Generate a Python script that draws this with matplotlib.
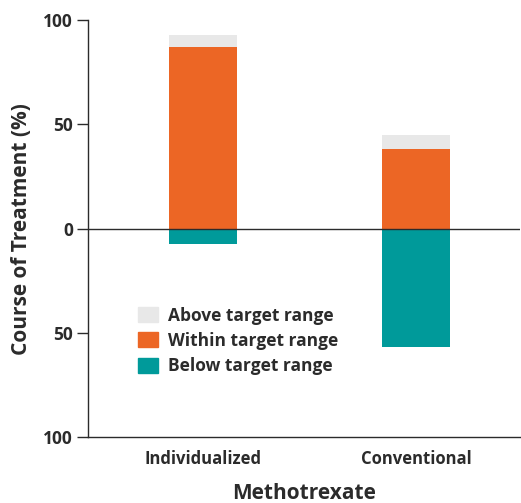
import matplotlib
matplotlib.use("Agg")
import matplotlib.pyplot as plt
from matplotlib.patches import Patch

categories = ["Individualized", "Conventional"]
within = [87, 38]
above = [6, 6.8]
below = [7.5, 57]
yticks = [100, 50, 0, -50, -100]
ytick_labels = ["100", "50", "0", "50", "100"]

c_above = "#e8e8e8"
c_within = "#ec6625"
c_below = "#009a9a"
dark = "#2b2b2b"

plt.rcParams['font.family'] = ['Open Sans', 'DejaVu Sans']

fig = plt.figure(figsize=(5.21, 5.03), dpi=100)
ax = fig.add_axes([0.169, 0.131, 0.829, 0.829])

x = list(range(len(categories)))
w = 0.32
ax.bar(x, within, width=w, color=c_within, zorder=2)
ax.bar(x, above, width=w, bottom=within, color=c_above, zorder=2)
ax.bar(x, [-b for b in below], width=w, color=c_below, zorder=2)
ax.axhline(0, color=dark, lw=1.0, zorder=3)

ax.set_xlim(-0.54, 1.488)
ax.set_ylim(-100, 100)
ax.set_yticks(yticks)
ax.set_yticklabels(ytick_labels, fontsize=12.5, fontweight='bold', color=dark)
ax.set_xticks(x)
ax.set_xticklabels(categories, fontsize=12, fontweight='bold', color=dark)
ax.tick_params(axis='x', length=0, pad=9)
ax.tick_params(axis='y', length=8, width=1, color=dark, pad=3)

for s in ['top', 'right']:
    ax.spines[s].set_visible(False)
for s in ['left', 'bottom']:
    ax.spines[s].set_color(dark)
    ax.spines[s].set_linewidth(1.0)

ax.set_ylabel("Course of Treatment (%)", fontsize=15, fontweight='bold', color=dark, labelpad=8)
ax.set_xlabel("Methotrexate", fontsize=15, fontweight='bold', color=dark, labelpad=11)

handles = [Patch(color=c_above, label="Above target range"),
           Patch(color=c_within, label="Within target range"),
           Patch(color=c_below, label="Below target range")]
leg = ax.legend(handles=handles, loc='upper left', bbox_to_anchor=(0.116, 0.313),
                frameon=False, fontsize=12.5, handlelength=1.15, handleheight=0.95,
                handletextpad=0.55, labelspacing=0.42, borderaxespad=0, borderpad=0)
for t in leg.get_texts():
    t.set_fontweight('bold')
    t.set_color(dark)

fig.savefig("out.png", dpi=100)
